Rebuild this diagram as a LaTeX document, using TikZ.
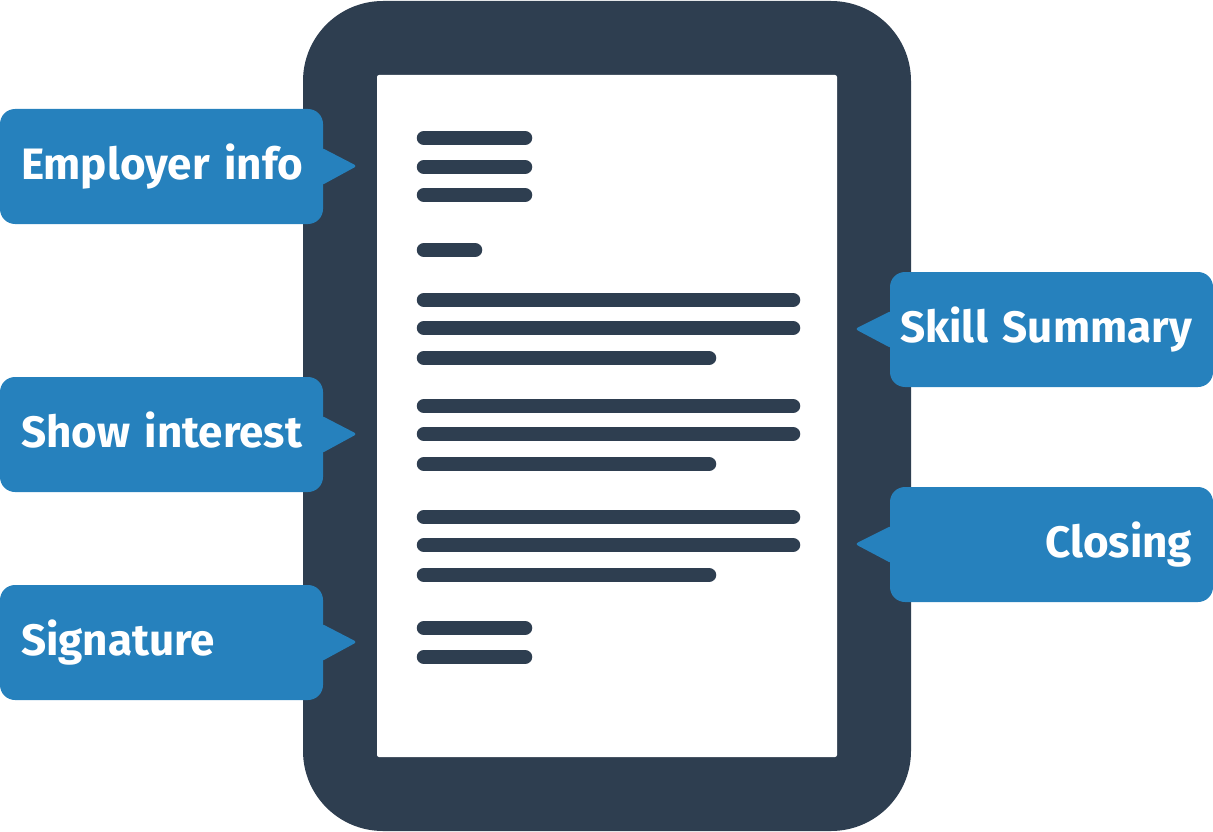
\documentclass[tikz,border=0pt]{standalone}
\usepackage{fontspec}
\setmainfont{Fira Sans}
\definecolor{tabletDark}{HTML}{2E3E50}
\definecolor{calloutBlue}{HTML}{2681BD}
\tikzset{
  callout/.style={fill=calloutBlue,rounded corners=15pt,minimum width=323pt,minimum height=115pt,
    inner xsep=21pt,text width=281pt,text height=31pt,text depth=5pt,
    text=white,font=\fontsize{44}{48}\selectfont\bfseries},
  textline/.style={draw=tabletDark,line width=14.5pt,line cap=round}
}
\begin{document}
\begin{tikzpicture}[x=1pt,y=-1pt]
  \useasboundingbox (0,0) rectangle (1213,832);
  % tablet and screen
  \fill[tabletDark,rounded corners=80pt] (303,1) rectangle (911,831);
  \fill[white,rounded corners=2pt] (377,75) rectangle (837,757);
  % lines of the letter
  \foreach \ly/\lx in {138/532,167/532,195/532,250/482,
      300/800,328/800,358/716,406/800,434/800,464/716,
      517/800,545/800,575/716,628/532,657/532}
    \draw[textline] (424,\ly) -- (\lx-7,\ly);
  % callouts
  \node[callout,align=left] (employer) at (161.5,166.5) {\rlap{Employer info}};
  \node[callout,align=left] (interest) at (161.5,434.5) {\rlap{Show interest}};
  \node[callout,align=left] (signature) at (161.5,642.5) {\rlap{Signature}};
  \node[callout,align=right] (skills) at (1051.5,329.5) {\llap{Skill Summary}};
  \node[callout,align=right] (closing) at (1051.5,544.5) {\llap{Closing}};
  \coordinate (employerTip) at (357,166);
  \coordinate (interestTip) at (357,434);
  \coordinate (signatureTip) at (357,642);
  \coordinate (skillsTip) at (855,329);
  \coordinate (closingTip) at (855,544);
  \foreach \c in {employer,interest,signature}
    \fill[calloutBlue,rounded corners=3pt] ([xshift=-2pt,yshift=19pt]\c.east) -- (\c Tip) -- ([xshift=-2pt,yshift=-19pt]\c.east) -- cycle;
  \foreach \c in {skills,closing}
    \fill[calloutBlue,rounded corners=3pt] ([xshift=2pt,yshift=19pt]\c.west) -- (\c Tip) -- ([xshift=2pt,yshift=-19pt]\c.west) -- cycle;
\end{tikzpicture}
\end{document}
